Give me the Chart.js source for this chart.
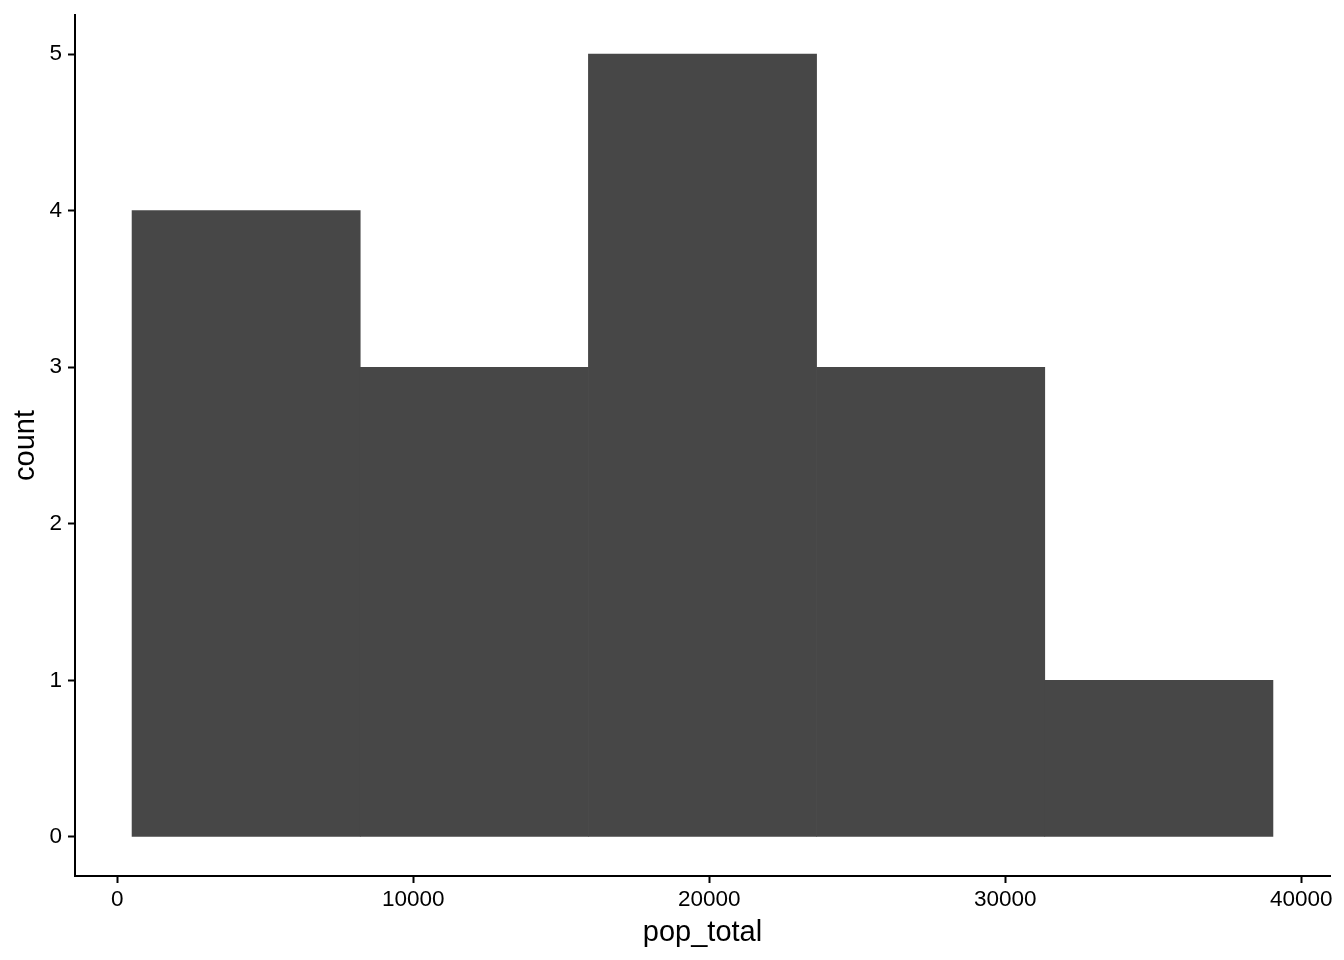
<!DOCTYPE html>
<html>
<head>
<meta charset="utf-8">
<script src="https://cdn.jsdelivr.net/npm/chart.js@4/dist/chart.umd.min.js"></script>
<style>
  html, body { margin: 0; padding: 0; background: #ffffff; }
  #wrap { width: 1344px; height: 960px; position: relative; }
</style>
</head>
<body>
<div id="wrap"><canvas id="c" width="1344" height="960"></canvas></div>
<script>
// Histogram bin edges (pop_total) and counts per bin
const binEdges = [500, 8209, 15917, 23626, 31334, 39043];
const counts = [4, 3, 5, 3, 1];
const xTicks = [0, 10000, 20000, 30000, 40000];
const yTicks = [0, 1, 2, 3, 4, 5];
const xLabel = 'pop_total';
const yLabel = 'count';

const binCenters = counts.map((_, i) => (binEdges[i] + binEdges[i + 1]) / 2);
const points = counts.map((c, i) => ({ x: binCenters[i], y: c }));
const span = binEdges[binEdges.length - 1] - binEdges[0];
const xMin = binEdges[0] - span * 0.05;
const xMax = binEdges[binEdges.length - 1] + span * 0.05;
const yMax = Math.max(...counts);

const FONT = "'Liberation Sans', Arial, Helvetica, sans-serif";

new Chart(document.getElementById('c'), {
  type: 'bar',
  data: {
    datasets: [{
      data: points,
      backgroundColor: '#474747',
      borderWidth: 0,
      categoryPercentage: 1.0,
      barPercentage: 1.0
    }]
  },
  options: {
    responsive: false,
    animation: false,
    events: [],
    layout: { padding: { left: 0, right: 14, top: 15, bottom: 0 } },
    plugins: { legend: { display: false }, tooltip: { enabled: false } },
    scales: {
      x: {
        type: 'linear',
        offset: false,
        min: xMin,
        max: xMax,
        afterBuildTicks: (s) => { s.ticks = xTicks.map(v => ({ value: v })); },
        afterFit: (s) => { s.height = 84; s.paddingLeft = 0; s.paddingRight = 0; },
        border: { display: true, color: '#000000', width: 2 },
        grid: { display: true, offset: false, drawOnChartArea: false, drawTicks: true, tickLength: 7, tickColor: '#000000', tickWidth: 2 },
        ticks: {
          color: '#000000',
          font: { family: FONT, size: 22.5 },
          padding: 3,
          maxRotation: 0,
          autoSkip: false,
          callback: (v) => String(v)
        },
        title: {
          display: true,
          text: xLabel,
          color: '#000000',
          font: { family: FONT, size: 29 },
          padding: { top: 0, bottom: 10 }
        }
      },
      y: {
        type: 'linear',
        min: -0.05 * yMax,
        max: yMax * 1.05,
        afterBuildTicks: (s) => { s.ticks = yTicks.map(v => ({ value: v })); },
        afterFit: (s) => { s.width = 75; s.paddingTop = 0; s.paddingBottom = 0; },
        border: { display: true, color: '#000000', width: 2 },
        grid: { display: true, offset: false, drawOnChartArea: false, drawTicks: true, tickLength: 7, tickColor: '#000000', tickWidth: 2 },
        ticks: {
          color: '#000000',
          font: { family: FONT, size: 22.5 },
          padding: 6,
          autoSkip: false,
          callback: (v) => String(v)
        },
        title: {
          display: true,
          text: yLabel,
          color: '#000000',
          font: { family: FONT, size: 29 },
          padding: { top: 9, bottom: 0 }
        }
      }
    }
  }
});
</script>
</body>
</html>
